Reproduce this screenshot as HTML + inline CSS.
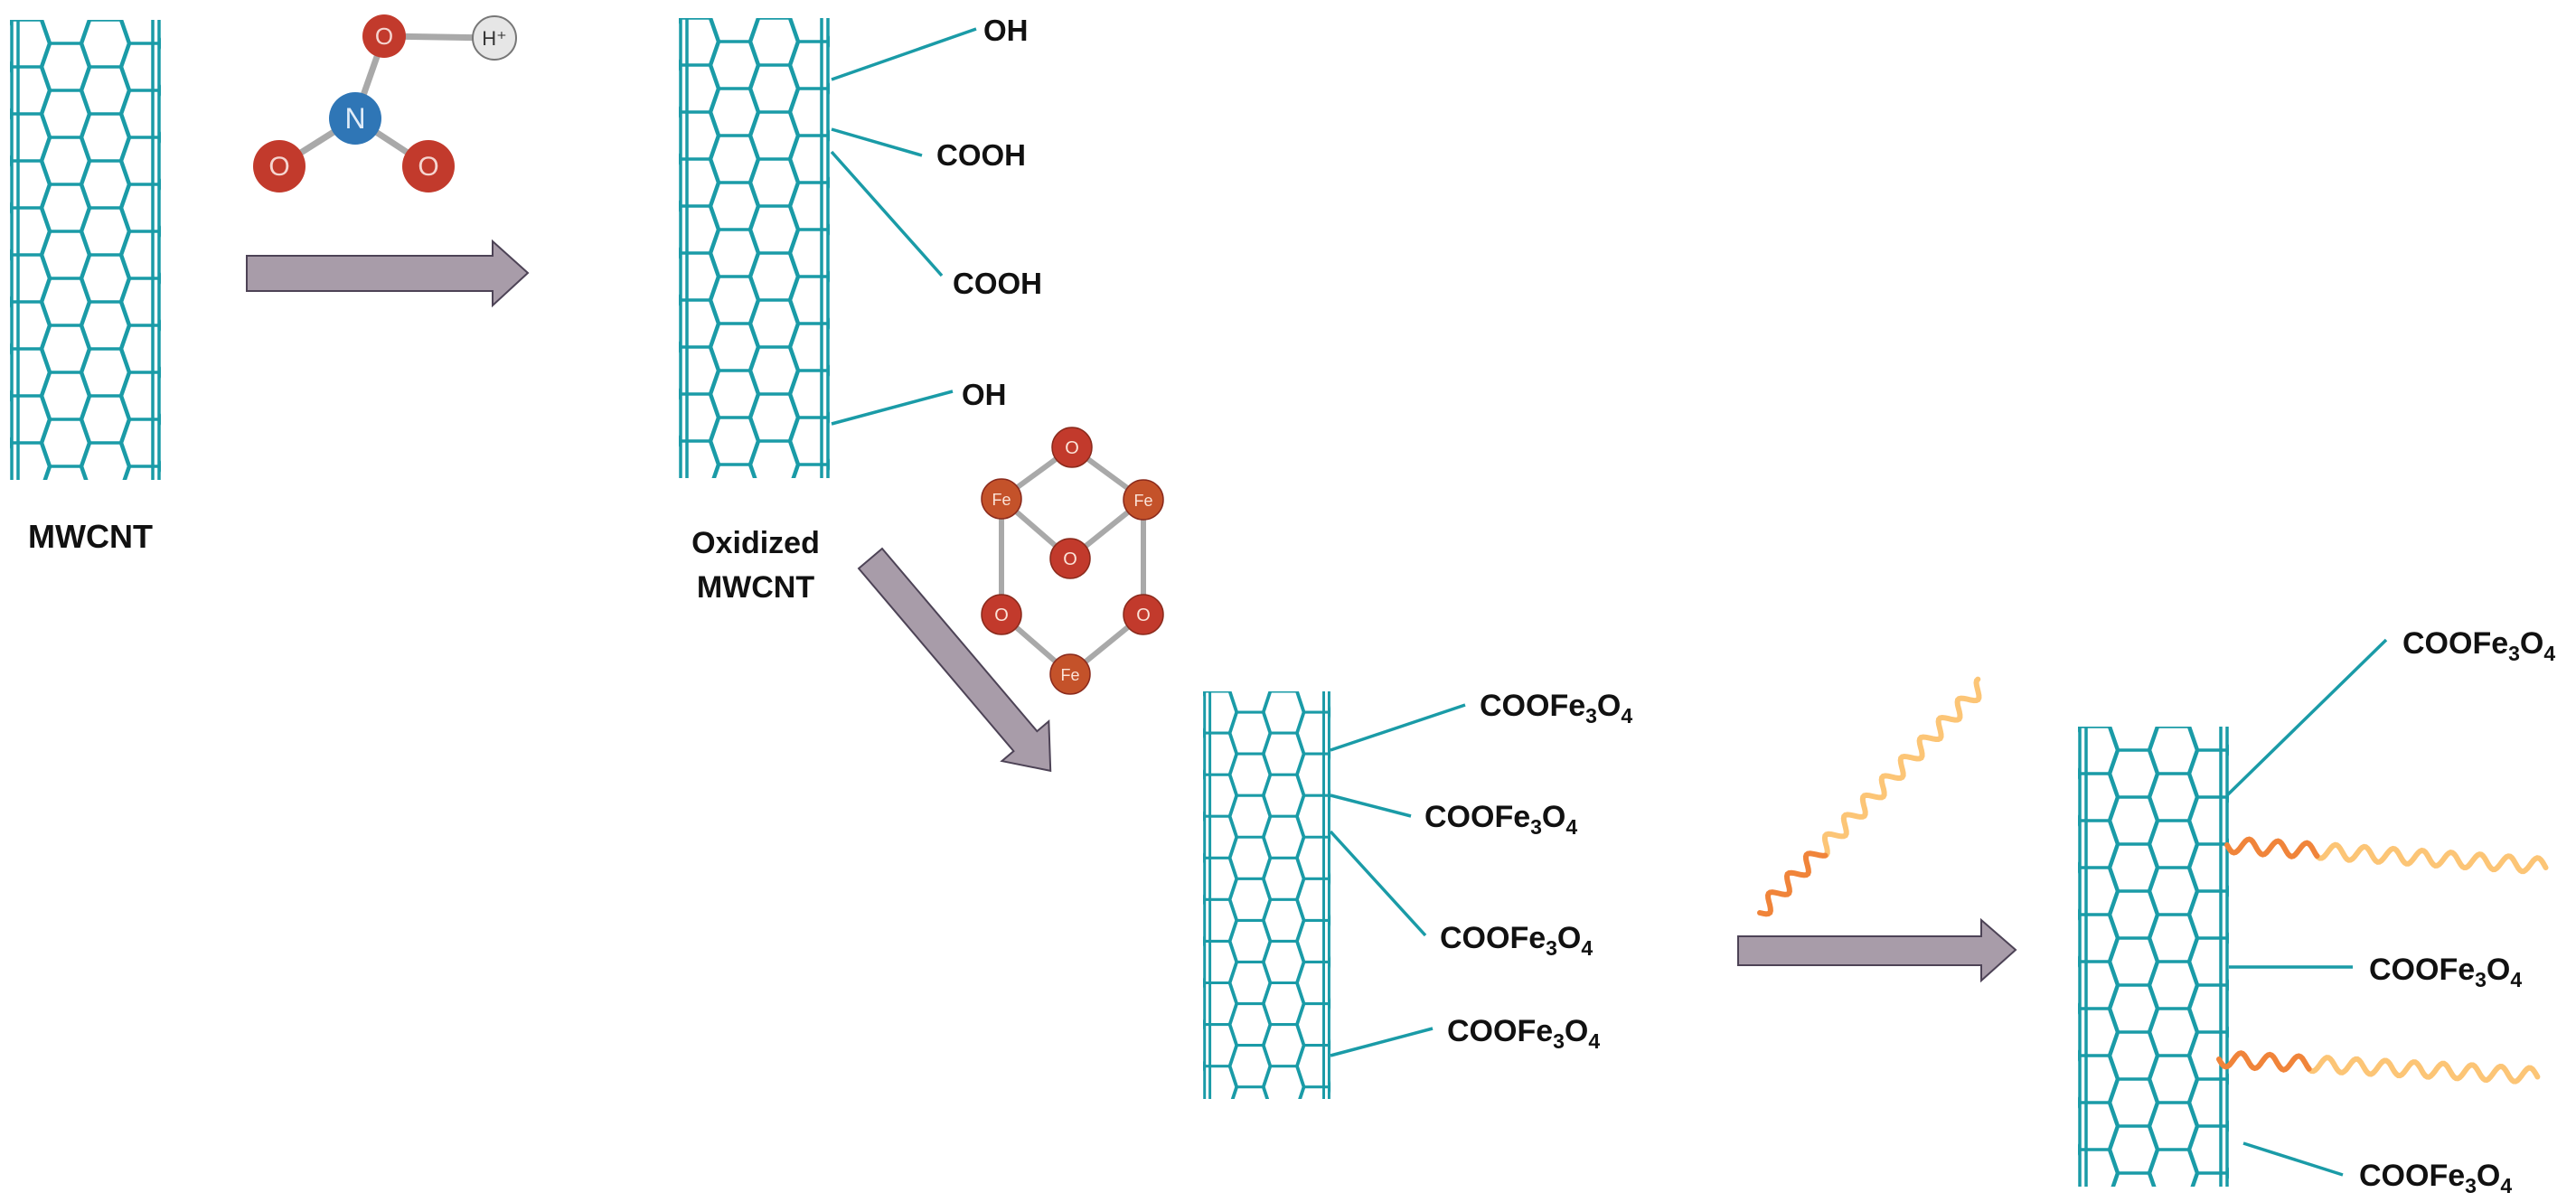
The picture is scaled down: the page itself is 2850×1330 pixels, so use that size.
<!DOCTYPE html>
<html><head><meta charset="utf-8"><style>
html,body{margin:0;padding:0;background:#fff;}
svg{display:block;}
text{font-family:"Liberation Sans",sans-serif;font-weight:bold;fill:#111;}
</style></head><body>
<svg id="s" width="2850" height="1330" viewBox="0 0 2850 1330" xmlns="http://www.w3.org/2000/svg">
<defs>
<clipPath id="tc"><rect x="0" y="0" width="167" height="509"/></clipPath>
<g id="tube"></g>
</defs>
<use href="#tube" transform="translate(11,22)"/>
<use href="#tube" transform="translate(751,20)"/>
<use href="#tube" transform="translate(1331,765) scale(0.845,0.886)"/>
<use href="#tube" transform="translate(2299,804)"/>

<!-- HNO3 -->
<g stroke="#a9a9a9" stroke-width="7">
<line x1="393" y1="131" x2="425" y2="40"/><line x1="425" y1="40" x2="547" y2="42"/>
<line x1="393" y1="131" x2="309" y2="184"/><line x1="393" y1="131" x2="474" y2="184"/>
</g>
<circle cx="547" cy="42" r="24" fill="#e6e6e6" stroke="#777" stroke-width="2"/>
<circle cx="425" cy="40" r="24" fill="#c23a2c"/>
<circle cx="309" cy="184" r="29" fill="#c23a2c"/>
<circle cx="474" cy="184" r="29" fill="#c23a2c"/>
<circle cx="393" cy="131" r="29" fill="#2f76b6"/>
<g style="font-weight:normal">
<text x="547" y="50" font-size="22" text-anchor="middle" style="font-weight:normal;fill:#333">H⁺</text>
<text x="425" y="49" font-size="26" text-anchor="middle" style="font-weight:normal;fill:#f5d5d0">O</text>
<text x="309" y="194" font-size="30" text-anchor="middle" style="font-weight:normal;fill:#f5d5d0">O</text>
<text x="474" y="194" font-size="30" text-anchor="middle" style="font-weight:normal;fill:#f5d5d0">O</text>
<text x="393" y="142" font-size="32" text-anchor="middle" style="font-weight:normal;fill:#e0ecf8">N</text>
</g>

<!-- arrows -->
<g fill="#a89ca9" stroke="#4d4356" stroke-width="2">
<polygon points="273,283 545,283 545,267 584,302 545,338 545,322 273,322"/>
<polygon points="1923,1036 2192,1036 2192,1018 2230,1051 2192,1085 2192,1068 1923,1068"/>
<g transform="translate(963,618) rotate(49.7)">
<polygon points="0,-17 265,-17 265,-34 308,0 265,34 265,17 0,17"/>
</g>
</g>

<!-- Fe3O4 cluster -->
<g stroke="#a9a9a9" stroke-width="6">
<line x1="1108" y1="552" x2="1186" y2="495"/><line x1="1265" y1="553" x2="1186" y2="495"/>
<line x1="1108" y1="552" x2="1184" y2="618"/><line x1="1265" y1="553" x2="1184" y2="618"/>
<line x1="1108" y1="552" x2="1108" y2="680"/><line x1="1265" y1="553" x2="1265" y2="680"/>
<line x1="1108" y1="680" x2="1184" y2="746"/><line x1="1265" y1="680" x2="1184" y2="746"/>
</g>
<g id="fe"></g>

<!-- tube2 labels -->
<g stroke="#1a9ba7" stroke-width="3.5">
<line x1="920" y1="88" x2="1080" y2="32"/>
<line x1="920" y1="143" x2="1020" y2="172"/>
<line x1="920" y1="168" x2="1042" y2="305"/>
<line x1="920" y1="469" x2="1054" y2="433"/>
</g>
<text x="1088" y="45" font-size="33">OH</text>
<text x="1036" y="183" font-size="33">COOH</text>
<text x="1054" y="325" font-size="33">COOH</text>
<text x="1064" y="448" font-size="33">OH</text>

<text x="100" y="606" font-size="36" text-anchor="middle">MWCNT</text>
<text x="836" y="612" font-size="34" text-anchor="middle">Oxidized</text>
<text x="836" y="661" font-size="34" text-anchor="middle">MWCNT</text>

<!-- tube3 labels -->
<g stroke="#1a9ba7" stroke-width="3.5">
<line x1="1472" y1="830" x2="1621" y2="780"/>
<line x1="1472" y1="880" x2="1561" y2="903"/>
<line x1="1472" y1="920" x2="1577" y2="1035"/>
<line x1="1472" y1="1168" x2="1585" y2="1138"/>
</g>
<g id="lab"></g>

<!-- tube4 -->
<g stroke="#1a9ba7" stroke-width="3.5">
<line x1="2464" y1="880" x2="2640" y2="708"/>
<line x1="2466" y1="1070" x2="2603" y2="1070"/>
<line x1="2482" y1="1265" x2="2592" y2="1300"/>
</g>
<g id="waves" fill="none" stroke-width="6" stroke-linecap="round"></g>
</svg>
<script>
var NS="http://www.w3.org/2000/svg";
function el(p,t,a){var e=document.createElementNS(NS,t);for(var k in a)e.setAttribute(k,a[k]);p.appendChild(e);return e;}
// tube
var tube=document.getElementById('tube');
var g=el(tube,'g',{'clip-path':'url(#tc)',fill:'none',stroke:'#1a9ba7','stroke-width':'3.5','stroke-linejoin':'round'});
var W=167,H=509,a=18,b=27,hh=26,d="";
var cols=[-110,-66,-22,22,66,110];
cols.forEach(function(o,i){var cx=W/2+o;var off=(i%2)?hh:0;
 for(var cy=-52+off;cy<H+60;cy+=52){
  d+="M"+(cx-a)+","+(cy-hh)+"L"+(cx+a)+","+(cy-hh)+"L"+(cx+b)+","+cy+"L"+(cx+a)+","+(cy+hh)+"L"+(cx-a)+","+(cy+hh)+"L"+(cx-b)+","+cy+"Z";
 }});
el(g,'path',{d:d});
[2,9,W-9,W-2].forEach(function(x){el(tube,'line',{x1:x,y1:0,x2:x,y2:H,stroke:'#1a9ba7','stroke-width':'3.5'});});
// Fe cluster atoms
var fe=document.getElementById('fe');
[[1186,495,'O'],[1108,552,'Fe'],[1265,553,'Fe'],[1184,618,'O'],[1108,680,'O'],[1265,680,'O'],[1184,746,'Fe']].forEach(function(p){
 el(fe,'circle',{cx:p[0],cy:p[1],r:22,fill:p[2]=='Fe'?'#c4522a':'#c23a2c',stroke:'#8a2a1c','stroke-width':1.5});
 var t=el(fe,'text',{x:p[0],y:p[1]+7,'font-size':p[2]=='Fe'?18:20,'text-anchor':'middle',style:'font-weight:normal;fill:#fbe3d8'});t.textContent=p[2];});
// labels
var lab=document.getElementById('lab');
function cf(x,y){var t=el(lab,'text',{x:x,y:y,'font-size':34});
 t.appendChild(document.createTextNode('COOFe'));
 var s=el(t,'tspan',{'font-size':23,dy:8});s.textContent='3';
 var s2=el(t,'tspan',{dy:-8});s2.textContent='O';
 var s3=el(t,'tspan',{'font-size':23,dy:8});s3.textContent='4';}
cf(1637,792);cf(1576,915);cf(1593,1049);cf(1601,1152);
cf(2658,723);cf(2621,1084);cf(2610,1312);
// waves
var wv=document.getElementById('waves');
function wave(x1,y1,x2,y2,frac,amp,wl){
 var dx=x2-x1,dy=y2-y1,L=Math.hypot(dx,dy),ux=dx/L,uy=dy/L,nx=-uy,ny=ux;
 function pts(s0,s1){var p=[];for(var s=s0;s<=s1;s+=2){var o=amp*Math.sin(2*Math.PI*s/wl);p.push((x1+ux*s+nx*o).toFixed(1)+","+(y1+uy*s+ny*o).toFixed(1));}return p.join(" ");}
 var m=L*frac;
 el(wv,'polyline',{points:pts(m,L),stroke:'#fcc576'});
 el(wv,'polyline',{points:pts(0,m+2),stroke:'#f0843a'});
}
wave(1947,1010,2194,757,0.27,8,30);
wave(2464,935,2818,958,0.28,8,32);
wave(2455,1172,2808,1190,0.28,8,32);
</script>
</body></html>
